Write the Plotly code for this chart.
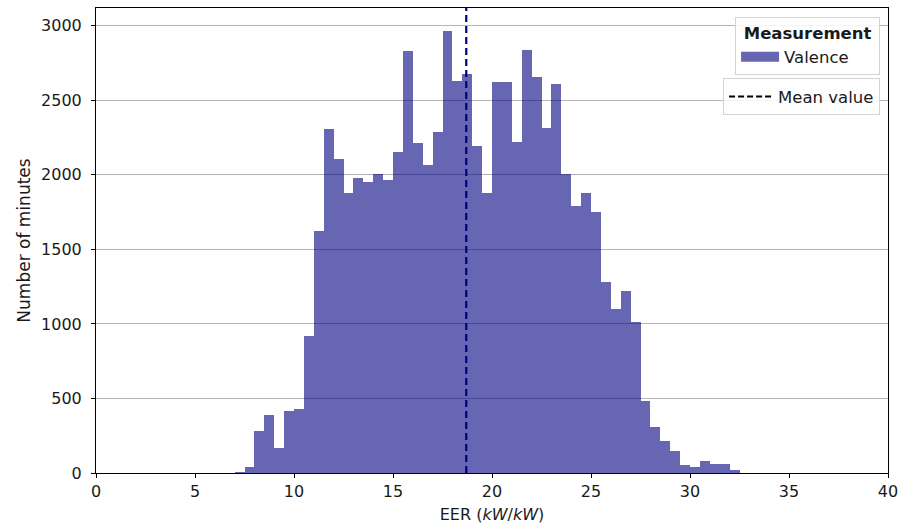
import plotly.graph_objects as go

# Data
bin_starts = [7.0, 7.5, 8.0, 8.5, 9.0, 9.5, 10.0, 10.5, 11.0, 11.5, 12.0, 12.5,
              13.0, 13.5, 14.0, 14.5, 15.0, 15.5, 16.0, 16.5, 17.0, 17.5, 18.0,
              18.5, 19.0, 19.5, 20.0, 20.5, 21.0, 21.5, 22.0, 22.5, 23.0, 23.5,
              24.0, 24.5, 25.0, 25.5, 26.0, 26.5, 27.0, 27.5, 28.0, 28.5, 29.0,
              29.5, 30.0, 30.5, 31.0, 31.5, 32.0]
counts = [10, 38, 280, 387, 166, 414, 432, 919, 1625, 2307, 2105, 1877,
          1978, 1953, 2005, 1964, 2152, 2830, 2213, 2065, 2287, 2966, 2631,
          2678, 2193, 1877, 2624, 2624, 2219, 2837, 2655, 2313, 2606, 2005,
          1792, 1877, 1750, 1282, 1103, 1219, 1013, 485, 311, 217, 148,
          54, 40, 78, 60, 60, 18]
bin_width = 0.5
mean_value = 18.7
x_ticks = [0, 5, 10, 15, 20, 25, 30, 35, 40]
y_ticks = [0, 500, 1000, 1500, 2000, 2500, 3000]

FONT = "DejaVu Sans"
TICK_FS = 16
XT_FS = 16
YT_FS = 17
LEG_FS = 16.5
BAR_COLOR = "rgba(0,0,128,0.6)"

fig = go.Figure()
fig.add_trace(go.Bar(
    x=[s + bin_width / 2 for s in bin_starts],
    y=counts,
    width=bin_width,
    marker=dict(color=BAR_COLOR, line=dict(width=0)),
    name="Valence",
    showlegend=False,
))
# Legend patch for the histogram
fig.add_trace(go.Scatter(
    x=[None], y=[None], mode="lines",
    line=dict(color=BAR_COLOR, width=10),
    name="Valence", legend="legend", showlegend=True,
))
# Mean line
fig.add_trace(go.Scatter(
    x=[mean_value, mean_value], y=[0, 1], yaxis="y2",
    mode="lines", line=dict(color="navy", width=2.2, dash="7px,4px"),
    showlegend=False, hoverinfo="skip",
))
# Legend entry for mean
fig.add_trace(go.Scatter(
    x=[None], y=[None], mode="lines",
    line=dict(color="black", width=2, dash="6px,3px"),
    name="Mean value", legend="legend2", showlegend=True,
))

axis_common = dict(
    showline=True, linecolor="black", linewidth=1, mirror=True,
    ticks="outside", ticklen=4, tickwidth=1, tickcolor="black",
    tickfont=dict(family=FONT, size=TICK_FS, color="#1a1a1a"),
    zeroline=False, automargin=False, ticklabeloverflow="allow",
)

fig.update_layout(
    width=899, height=527,
    margin=dict(l=96, r=11, t=8, b=54),
    paper_bgcolor="white", plot_bgcolor="white",
    font=dict(family=FONT, size=TICK_FS, color="#1a1a1a"),
    bargap=0,
    xaxis=dict(range=[0, 40], tickvals=x_ticks, showgrid=False,
               title=dict(text="EER (<i>kW</i>/<i>kW</i>)", standoff=8,
                          font=dict(family=FONT, size=XT_FS)),
               **axis_common),
    yaxis=dict(range=[0, 3119], tickvals=y_ticks, showgrid=True,
               gridcolor="#b4b4b4", gridwidth=1, ticklabelstandoff=6,
               title=dict(text="Number of minutes", standoff=6,
                          font=dict(family=FONT, size=YT_FS)),
               **axis_common),
    yaxis2=dict(range=[0, 1], overlaying="y", visible=False),
    legend=dict(
        title=dict(text="\u00a0<b>Measurement</b>\u00a0", side="top center",
                   font=dict(family=FONT, size=LEG_FS)),
        x=0.99, xanchor="right", y=0.9806, yanchor="top",
        bgcolor="rgba(255,255,255,0.85)", bordercolor="#d3d3d3", borderwidth=1,
        font=dict(family=FONT, size=LEG_FS), itemwidth=38,
    ),
    legend2=dict(
        x=0.99, xanchor="right", y=0.849, yanchor="top",
        bgcolor="rgba(255,255,255,0.85)", bordercolor="#d3d3d3", borderwidth=1,
        font=dict(family=FONT, size=LEG_FS), itemwidth=44,
    ),
)

fig.write_html(
    "out.html",
    config={"displayModeBar": False},
    post_script="document.body.style.margin='0';document.body.style.overflow='hidden';",
)
